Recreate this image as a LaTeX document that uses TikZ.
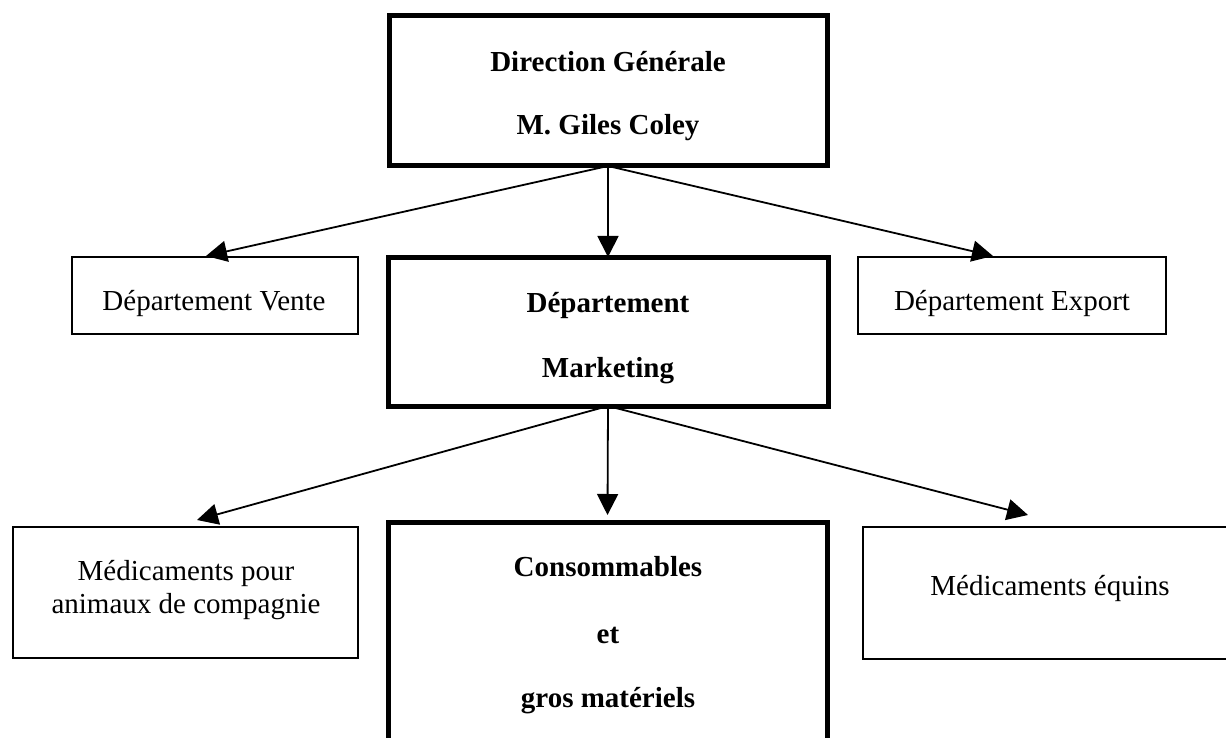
\documentclass[tikz,border=0pt]{standalone}
\usepackage{fontspec}
\setmainfont{Liberation Serif}
\usetikzlibrary{arrows.meta,calc}
\begin{document}
\begin{tikzpicture}[x=1pt,y=-1pt,
  boxthick/.style={draw, rectangle, line width=5pt, inner sep=0pt, outer sep=0pt},
  boxthin/.style={draw, rectangle, line width=1.8pt, inner sep=0pt, outer sep=0pt},
  txt/.style={anchor=base, inner sep=0pt, font=\fontsize{29}{29}\selectfont},
  btxt/.style={anchor=base, inner sep=0pt, font=\fontsize{29}{29}\selectfont\bfseries},
  link/.style={draw, line width=1.8pt, -{Triangle[length=21pt,width=21pt]}}]
\useasboundingbox (0,0) rectangle (1226,738);
\clip (0,0) rectangle (1226,738);

% boxes
\node[boxthick, minimum width=438pt, minimum height=150pt] (dg) at (608,91) {};
\node[btxt] (dg1) at (608,72) {Direction Générale};
\node[btxt] (dg2) at (608,135) {M. Giles Coley};

\node[boxthick, minimum width=440pt, minimum height=149pt] (mk) at (608,331.5) {};
\node[btxt] (mk1) at (608,312) {Département};
\node[btxt] (mk2) at (608,377) {Marketing};

\node[boxthin, minimum width=286pt, minimum height=77pt] (vente) at (215,295.5) {};
\node[txt] (vente1) at (214,310) {Département Vente};

\node[boxthin, minimum width=308pt, minimum height=77pt] (export) at (1012,295.5) {};
\node[txt] (export1) at (1012,310) {Département Export};

\node[boxthin, minimum width=345pt, minimum height=131pt] (pets) at (185.5,592.5) {};
\node[txt] (pets1) at (186,580) {Médicaments pour};
\node[txt] (pets2) at (186,613) {animaux de compagnie};

\node[boxthick, minimum width=439pt, minimum height=228pt] (conso) at (607.5,636) {};
\node[btxt] (conso1) at (608,576) {Consommables};
\node[btxt] (conso2) at (608,643) {et};
\node[btxt] (conso3) at (608,707) {gros matériels};

\node[boxthin, minimum width=374pt, minimum height=132pt] (equins) at (1050,593) {};
\node[txt] (equins1) at (1050,595) {Médicaments équins};

% connectors
\draw[link] (dg.south) -- ($(vente.north)+(-9,-1)$);
\draw[link] (dg.south) -- (mk.north);
\draw[link] (dg.south) -- ($(export.north)+(-19,-1)$);
\draw[link] (mk.south) -- ($(pets.north)+(11.5,-7)$);
\draw[link] (mk.south) -- ($(conso.north)+(0,-7)$);
\draw[link] (mk.south) -- ($(equins.north)+(-22,-12)$);
\end{tikzpicture}
\end{document}
